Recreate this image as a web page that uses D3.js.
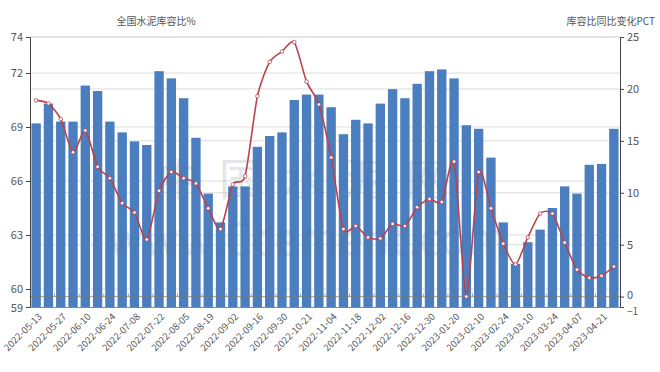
<!doctype html>
<html>
<head>
<meta charset="utf-8">
<title>全国水泥库容比</title>
<script src="https://cdnjs.cloudflare.com/ajax/libs/d3/7.8.5/d3.min.js"></script>
<style>
  body { margin: 0; background: #fff; }
  text { font-family: "Noto Sans CJK SC", "Noto Sans", sans-serif; }
</style>
</head>
<body>
<svg width="660" height="372"></svg>
<script>
// weekly dates (every other one is labelled)
var dates = ["2022-05-13","2022-05-20","2022-05-27","2022-06-03","2022-06-10","2022-06-17","2022-06-24","2022-07-01",
  "2022-07-08","2022-07-15","2022-07-22","2022-07-29","2022-08-05","2022-08-12","2022-08-19","2022-08-26",
  "2022-09-02","2022-09-09","2022-09-16","2022-09-23","2022-09-30","2022-10-14","2022-10-21","2022-10-28",
  "2022-11-04","2022-11-11","2022-11-18","2022-11-25","2022-12-02","2022-12-09","2022-12-16","2022-12-23",
  "2022-12-30","2023-01-13","2023-01-20","2023-02-03","2023-02-10","2023-02-17","2023-02-24","2023-03-03",
  "2023-03-10","2023-03-17","2023-03-24","2023-03-31","2023-04-07","2023-04-14","2023-04-21","2023-04-28"];

// 全国水泥库容比 %
var ratio = [69.2,70.3,69.3,69.3,71.3,71.0,69.3,68.7,68.2,68.0,72.1,71.7,70.6,68.4,65.3,63.7,
  65.7,65.7,67.9,68.5,68.7,70.5,70.8,70.8,70.1,68.6,69.4,69.2,70.3,71.1,70.6,71.4,
  72.1,72.2,71.7,69.1,68.9,67.3,63.7,61.4,62.6,63.3,64.5,65.7,65.3,66.9,66.95,68.9];

// 库容比同比变化 PCT
var change = [18.9,18.6,17.1,13.9,16.0,12.5,11.4,9.0,8.1,5.5,10.2,12.0,11.4,10.9,8.5,6.5,
  10.8,11.6,19.3,22.6,23.6,24.5,20.7,18.5,13.4,6.5,6.8,5.7,5.6,7.0,6.8,8.6,
  9.4,9.1,13.0,0.0,12.0,8.5,5.1,3.1,5.7,8.0,8.0,5.2,2.6,1.8,2.0,2.9];

var leftTicks = [59, 60, 63, 66, 69, 72, 74];
var rightTicks = [-1, 0, 5, 10, 15, 20, 25];

var svg = d3.select("svg");
var mLeft = 30, mRight = 620, mTop = 37, mBottom = 307;

var x = d3.scaleBand().domain(dates).range([mLeft, mRight]).paddingInner(0.24).paddingOuter(0.12);
var yL = d3.scaleLinear().domain([59, 74]).range([mBottom, mTop]);
var yR = d3.scaleLinear().domain([-1, 25]).range([mBottom, mTop]);

// gridlines from both axes
svg.append("g").selectAll("line")
  .data(leftTicks.filter(d => d != 59).map(yL).concat(rightTicks.filter(d => d > 0).map(yR)))
  .join("line")
  .attr("x1", mLeft).attr("x2", mRight)
  .attr("y1", d => d).attr("y2", d => d)
  .attr("stroke", "#dcdcdc").attr("stroke-width", 1);

// bars
svg.append("g").selectAll("rect")
  .data(ratio)
  .join("rect")
  .attr("x", (d, i) => x(dates[i]))
  .attr("width", x.bandwidth())
  .attr("y", d => yL(d))
  .attr("height", d => mBottom - yL(d))
  .attr("fill", "#4a7ebf");

// watermark
var wm = svg.append("g").attr("fill", "#5a6e8a").attr("opacity", 0.16);
wm.append("text").attr("x", 312).attr("y", 196).attr("text-anchor", "middle")
  .attr("font-size", 44).attr("letter-spacing", 18).text("中国水泥网");
wm.append("text").attr("x", 308).attr("y", 255).attr("text-anchor", "middle")
  .attr("font-size", 44).text("www.Ccement.com");

// zero line of the right axis with small ticks
var zero = svg.append("g").attr("stroke", "#777").attr("opacity", 0.7);
zero.append("line").attr("x1", mLeft).attr("x2", mRight).attr("y1", yR(0)).attr("y2", yR(0));
zero.selectAll(".zt").data(dates.filter((d, i) => i % 2 == 0 && i > 0))
  .join("line")
  .attr("x1", d => x(d) - x.step() * 0.12).attr("x2", d => x(d) - x.step() * 0.12)
  .attr("y1", yR(0)).attr("y2", yR(0) - 3);

// line series
var line = d3.line()
  .x((d, i) => x(dates[i]) + x.bandwidth() / 2)
  .y(d => yR(d))
  .curve(d3.curveCardinal.tension(0.3));

svg.append("path")
  .datum(change)
  .attr("d", line)
  .attr("fill", "none")
  .attr("stroke", "#b8434f")
  .attr("stroke-width", 1.6);

svg.append("g").selectAll("circle")
  .data(change)
  .join("circle")
  .attr("cx", (d, i) => x(dates[i]) + x.bandwidth() / 2)
  .attr("cy", d => yR(d))
  .attr("r", 1.8)
  .attr("fill", "#fff")
  .attr("stroke", "#b8434f")
  .attr("stroke-width", 0.8);

// axes
var axL = svg.append("g")
  .attr("transform", "translate(" + mLeft + ",0)")
  .call(d3.axisLeft(yL).tickValues(leftTicks).tickSize(4).tickPadding(3));
var axR = svg.append("g")
  .attr("transform", "translate(" + mRight + ",0)")
  .call(d3.axisRight(yR).tickValues(rightTicks).tickSize(4).tickPadding(3));
[axL, axR].forEach(function(ax) {
  ax.select(".domain").attr("stroke", "#444");
  ax.selectAll(".tick line").attr("stroke", "#444");
  ax.selectAll("text").attr("fill", "#555").attr("font-size", 11)
    .style("font-family", "'Noto Sans CJK SC', sans-serif");
});
// nudge -1 / 59 apart from their neighbours like the original
axR.selectAll(".tick text").filter(d => d == -1).attr("dy", "0.75em").attr("font-size", 10);
axR.selectAll(".tick text").filter(d => d == 0).attr("dy", "0.2em");
axL.selectAll(".tick text").filter(d => d == 59).attr("dy", "0.4em");

// bottom axis
var axB = svg.append("g")
  .attr("transform", "translate(0," + mBottom + ")")
  .call(d3.axisBottom(x).tickValues(dates.filter((d, i) => i % 2 == 0)).tickSize(0).tickPadding(6));
axB.select(".domain").attr("stroke", "#888");
axB.selectAll("text")
  .attr("fill", "#555").attr("font-size", 9.5)
  .style("font-family", "'Noto Sans CJK SC', sans-serif")
  .attr("text-anchor", "end")
  .attr("dy", "0.3em")
  .attr("transform", "translate(0,4) rotate(-45)");

// axis titles
svg.append("text").attr("x", 156).attr("y", 25).attr("text-anchor", "middle")
  .attr("font-size", 10).attr("fill", "#555").text("全国水泥库容比%");
svg.append("text").attr("x", 655).attr("y", 25).attr("text-anchor", "end")
  .attr("font-size", 10).attr("fill", "#555").text("库容比同比变化PCT");
</script>
</body>
</html>
